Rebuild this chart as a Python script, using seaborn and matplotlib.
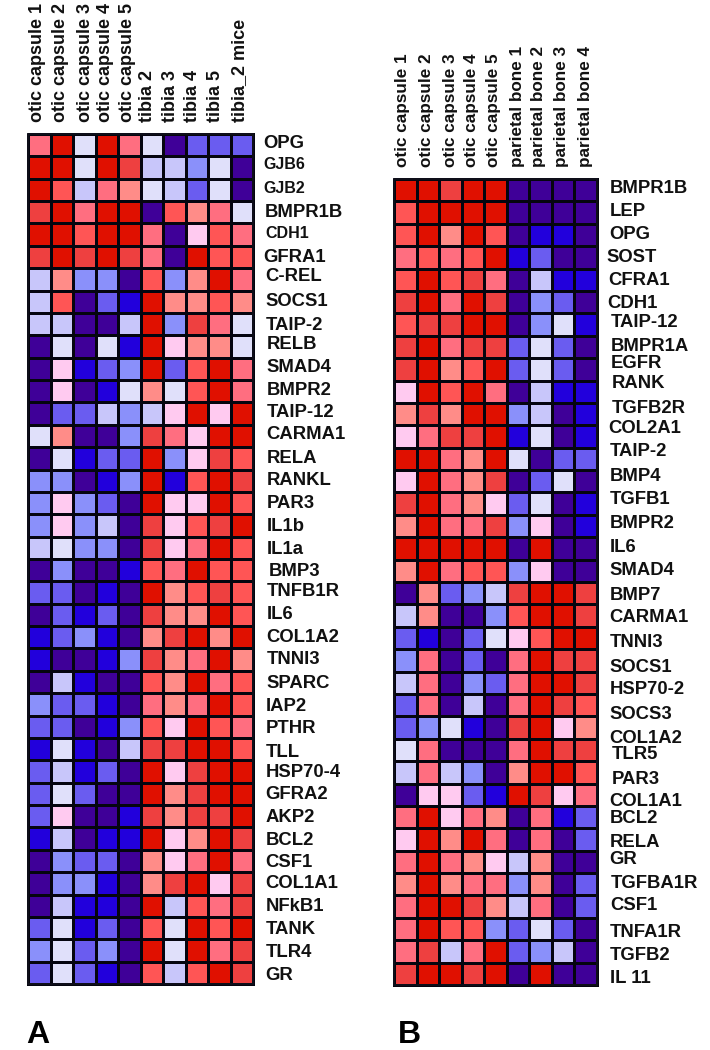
import numpy as np
import pandas as pd
import matplotlib
matplotlib.use("Agg")
import matplotlib.pyplot as plt
from matplotlib.colors import ListedColormap, BoundaryNorm
from matplotlib.transforms import ScaledTranslation
import seaborn as sns

# expression levels, -6 (dark blue) .. -1 (pale), 1 (pink) .. 6 (dark red)
level_colors = ["#3f0098", "#2200dc", "#6a5cf0", "#8a90fa", "#c8c6fa", "#e0e0fa",
                "#ffcaf0", "#ff8c88", "#ff6e80", "#ff5555", "#ee4040", "#e01000"]
level_bounds = [-6.5, -5.5, -4.5, -3.5, -2.5, -1.5, 0, 1.5, 2.5, 3.5, 4.5, 5.5, 6.5]

samples_a = ["otic capsule 1", "otic capsule 2", "otic capsule 3", "otic capsule 4",
             "otic capsule 5", "tibia 2", "tibia 3", "tibia 4", "tibia 5", "tibia_2 mice"]
genes_a = ["OPG", "GJB6", "GJB2", "BMPR1B", "CDH1", "GFRA1", "C-REL", "SOCS1", "TAIP-2",
           "RELB", "SMAD4", "BMPR2", "TAIP-12", "CARMA1", "RELA", "RANKL", "PAR3", "IL1b",
           "IL1a", "BMP3", "TNFB1R", "IL6", "COL1A2", "TNNI3", "SPARC", "IAP2", "PTHR",
           "TLL", "HSP70-4", "GFRA2", "AKP2", "BCL2", "CSF1", "COL1A1", "NFkB1", "TANK",
           "TLR4", "GR"]
values_a = [
    [3, 6, -1, 6, 3, -1, -6, -4, -4, -4],
    [6, 6, -1, 6, 5, -2, -2, -3, -1, -6],
    [6, 4, -2, 3, 2, -1, -2, -4, -1, -6],
    [5, 6, 3, 6, 6, -6, 4, 2, 3, -1],
    [6, 6, 4, 6, 6, 3, -6, 1, 4, 3],
    [5, 6, 5, 6, 5, 3, -6, 6, 4, 4],
    [-2, 2, -3, -3, -6, 4, -3, 2, 6, 3],
    [-2, 4, -6, -4, -5, 6, 2, 2, 4, 2],
    [-2, -2, -6, -6, -2, 6, -3, 5, 3, -1],
    [-6, -1, -6, -1, -5, 6, 1, 2, 2, -1],
    [-6, 1, -5, -4, -3, 6, -4, 4, 6, 3],
    [-6, 1, -6, -5, -1, 2, -1, 4, 6, 3],
    [-6, -4, -4, -2, -3, -2, 1, 6, 1, 6],
    [-1, 2, -6, -6, -3, 5, 3, 1, 6, 6],
    [-6, -1, -5, -4, -4, 6, -3, 1, 5, 4],
    [-3, -3, -6, -5, -3, 6, -5, 4, 6, 5],
    [-3, 1, -3, -4, -6, 6, 1, 1, 6, 4],
    [-3, 1, -3, -2, -6, 5, 1, 4, 5, 6],
    [-2, -1, -3, -3, -6, 5, 1, 3, 6, 4],
    [-6, -3, -6, -6, -5, 4, 3, 6, 4, 4],
    [-4, -4, -6, -5, -6, 6, 2, 4, 5, 4],
    [-6, -4, -5, -4, -6, 5, 2, 2, 6, 4],
    [-5, -4, -3, -5, -6, 2, 5, 6, 2, 6],
    [-5, -6, -6, -5, -3, 5, 2, 3, 6, 2],
    [-6, -2, -5, -6, -6, 4, 2, 6, 3, 4],
    [-3, -4, -4, -5, -6, 3, 2, 3, 6, 4],
    [-4, -4, -6, -5, -3, 4, 1, 6, 4, 3],
    [-5, -1, -5, -6, -2, 5, 5, 6, 6, 4],
    [-4, -2, -5, -4, -6, 6, 1, 5, 6, 6],
    [-4, -1, -4, -6, -6, 6, 2, 5, 6, 6],
    [-4, 1, -6, -6, -5, 5, 2, 5, 5, 6],
    [-5, -2, -6, -5, -5, 6, 1, 2, 6, 5],
    [-6, -3, -4, -4, -6, 2, 1, 3, 6, 3],
    [-6, -3, -3, -5, -6, 2, 5, 6, 1, 5],
    [-6, -2, -5, -5, -6, 6, -2, 4, 3, 5],
    [-4, -1, -5, -4, -6, 4, -1, 6, 4, 6],
    [-3, -1, -4, -3, -6, 6, -1, 6, 3, 5],
    [-4, -1, -4, -5, -6, 4, -2, 4, 6, 5],
]

samples_b = ["otic capsule 1", "otic capsule 2", "otic capsule 3", "otic capsule 4",
             "otic capsule 5", "parietal bone 1", "parietal bone 2", "parietal bone 3",
             "parietal bone 4"]
genes_b = ["BMPR1B", "LEP", "OPG", "SOST", "CFRA1", "CDH1", "TAIP-12", "BMPR1A", "EGFR",
           "RANK", "TGFB2R", "COL2A1", "TAIP-2", "BMP4", "TGFB1", "BMPR2", "IL6", "SMAD4",
           "BMP7", "CARMA1", "TNNI3", "SOCS1", "HSP70-2", "SOCS3", "COL1A2", "TLR5", "PAR3",
           "COL1A1", "BCL2", "RELA", "GR", "TGFBA1R", "CSF1", "TNFA1R", "TGFB2", "IL 11"]
values_b = [
    [6, 6, 5, 6, 6, -6, -6, -6, -6],
    [4, 6, 6, 6, 6, -6, -6, -6, -6],
    [4, 6, 2, 6, 4, -6, -5, -5, -6],
    [3, 4, 3, 4, 6, -5, -4, -6, -6],
    [4, 6, 4, 5, 3, -6, -2, -5, -5],
    [5, 6, 3, 6, 5, -6, -3, -4, -6],
    [4, 5, 5, 6, 6, -6, -3, -1, -5],
    [5, 6, 3, 5, 5, -4, -1, -4, -6],
    [5, 6, 2, 4, 6, -4, -1, -4, -6],
    [1, 6, 4, 6, 3, -6, -2, -5, -5],
    [2, 5, 2, 6, 6, -3, -2, -6, -5],
    [1, 3, 5, 5, 6, -5, -1, -6, -5],
    [6, 6, 3, 2, 6, -1, -6, -4, -4],
    [1, 6, 3, 2, 5, -6, -4, -1, -6],
    [5, 6, 3, 2, 1, -4, -1, -6, -5],
    [2, 6, 3, 3, 5, -3, 1, -6, -5],
    [6, 6, 6, 6, 6, -6, 6, -6, -6],
    [2, 6, 3, 4, 4, -3, 1, -6, -6],
    [-6, 2, -4, -3, -2, 5, 6, 6, 5],
    [-2, 2, -6, -6, -3, 4, 6, 6, 5],
    [-4, -5, -6, -4, -1, 1, 4, 6, 6],
    [-3, 3, -6, -4, -6, 3, 6, 5, 5],
    [-2, 3, -6, -3, -4, 3, 6, 6, 5],
    [-4, 3, -6, -2, -6, 3, 6, 5, 4],
    [-4, -3, -1, -5, -6, 5, 6, 1, 2],
    [-1, 3, -6, -6, -6, 3, 6, 5, 5],
    [-2, 3, -2, -3, -6, 2, 6, 6, 4],
    [-6, 1, 1, -4, -5, 6, 5, 1, 3],
    [3, 6, 1, 3, 2, -6, 3, -5, -4],
    [1, 6, 2, 6, 3, -6, 3, -6, -4],
    [3, 6, 3, 2, 1, -2, 2, -6, -6],
    [2, 6, 2, 3, 3, -3, 2, -6, -4],
    [3, 6, 6, 5, 2, -2, 3, -6, -4],
    [3, 6, 4, 4, -3, -4, -1, -4, -6],
    [3, 5, -2, 3, 6, -4, -3, -2, -6],
    [5, 6, 6, 5, 6, -6, 6, -6, -6],
]

W, H = 710, 1050

# the labels were pasted by hand in the source figure, so they sit slightly off the rows
# (pixel nudges: right / down for row labels, right for column labels)
row_dx_a = [-2, -2, -2, -1, 0, -2, 0, 0, 0, 1, 1, 1, 1, 1, 1, 1, 1, 1, 1, 3, 1, 1, 1, 1, 1,
            0, 0, 0, 0, 0, 0, 0, 0, 0, 0, 0, 0, 0]
row_dy_a = [-2, -3, -1, 0, -1, 0, -3, 0, 1, -2, -1, -1, -1, -1, 0, 0, 0, 1, 2, 1, -1, 0, 0,
            0, 1, 2, 2, 3, 1, 1, 1, 2, 2, 0, 1, 1, 2, 3]
row_dx_b = [0, 0, 0, -3, -1, -2, 1, 1, 1, 2, 2, -1, 0, 0, 0, 0, 0, 0, 0, 0, 0, 0, 0, 0, 0,
            2, 2, 0, 0, 0, 0, 1, 1, 0, 0, 0]
row_dy_b = [-2, -1, 0, 0, 1, 1, -2, 0, -6, -8, -6, -8, -7, -5, -4, -3, -1, 0, 2, 2, 5, 7, 7,
            9, 11, 5, 7, 7, 1, 3, -2, -1, -1, 3, 4, 5]
col_dx_a = [-2, -1, 1, -1, -2, -4, -4, -4, -4, -2]
col_dx_b = [-3, -1, 0, -1, -2, -1, -2, -2, 0]
small_labels_a = ["GJB6", "GJB2", "CDH1"]


def panel_axes(fig, left, top, right, bottom):
    return fig.add_axes([left / W, 1 - bottom / H, (right - left) / W, (bottom - top) / H])


def nudge(fig, label, dx, dy):
    label.set_transform(label.get_transform() + ScaledTranslation(dx / 100, -dy / 100, fig.dpi_scale_trans))


def draw_panel(fig, ax, values, genes, samples, cmap, norm, col_size, row_dx, row_dy, col_dx):
    df = pd.DataFrame(np.array(values), index=genes, columns=samples)
    sns.heatmap(df, ax=ax, cmap=cmap, norm=norm, cbar=False, square=False,
                linewidths=2.0, linecolor="#05050f", clip_on=False,
                xticklabels=True, yticklabels=True)
    ax.xaxis.tick_top()
    ax.yaxis.tick_right()
    ax.tick_params(length=0)
    ax.tick_params(axis="x", pad=8.6)
    ax.tick_params(axis="y", pad=9)
    plt.setp(ax.get_xticklabels(), rotation=90, ha="center", va="bottom",
             fontsize=col_size, fontweight="bold", color="#111111")
    plt.setp(ax.get_yticklabels(), rotation=0, ha="left", va="center",
             fontsize=13.3, fontweight="bold", color="#111111")
    for lab, dx in zip(ax.get_xticklabels(), col_dx):
        nudge(fig, lab, dx, 0)
    for lab, dx, dy in zip(ax.get_yticklabels(), row_dx, row_dy):
        nudge(fig, lab, dx, dy)
    for side in ax.spines.values():
        side.set_visible(True)
        side.set_color("#10101c")
        side.set_linewidth(1.2)


sns.set_theme(style="white")
plt.rcParams["font.family"] = ["Liberation Sans", "DejaVu Sans"]

cmap = ListedColormap(level_colors)
norm = BoundaryNorm(level_bounds, cmap.N)

fig = plt.figure(figsize=(W / 100, H / 100), dpi=100)
ax_a = panel_axes(fig, 28, 134, 253, 984)
ax_b = panel_axes(fig, 394, 179, 597, 985)
draw_panel(fig, ax_a, values_a, genes_a, samples_a, cmap, norm, 13, row_dx_a, row_dy_a, col_dx_a)
draw_panel(fig, ax_b, values_b, genes_b, samples_b, cmap, norm, 12.3, row_dx_b, row_dy_b, col_dx_b)

for lab in ax_a.get_yticklabels():
    if lab.get_text() in small_labels_a:
        lab.set_fontsize(11.5)

fig.text(26 / W, 1 - 1043 / H, "A", fontsize=23, fontweight="bold", color="black")
fig.text(398 / W, 1 - 1043 / H, "B", fontsize=23, fontweight="bold", color="black")

fig.savefig("out.png", dpi=100)
